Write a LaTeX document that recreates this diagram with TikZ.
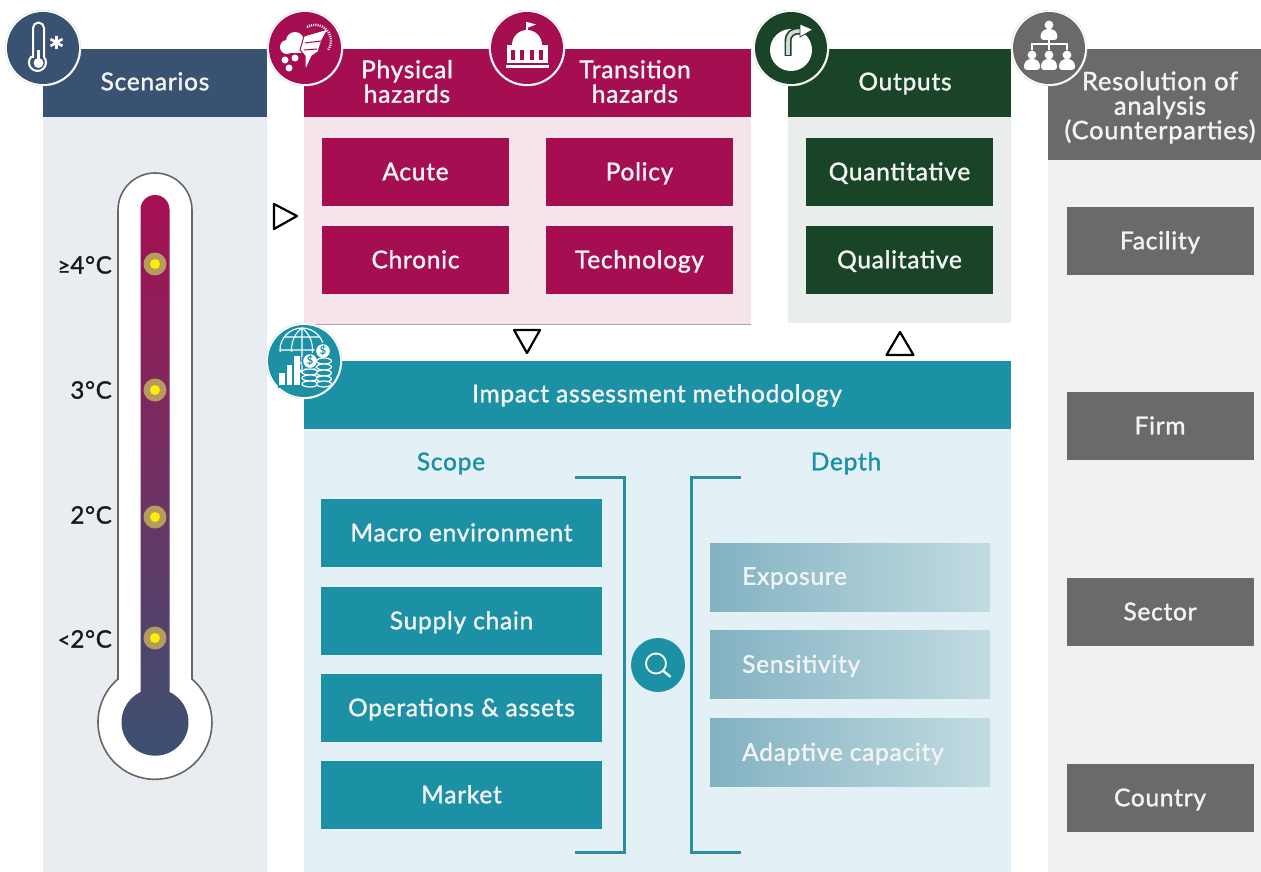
\documentclass[tikz,border=0pt]{standalone}
\usepackage{fontspec}
\setmainfont{Lato}
\newfontfamily\labelfont[LetterSpace=3,FakeBold=1.4]{Lato}
\definecolor{navy}{HTML}{3A5272}
\definecolor{wine}{HTML}{A50F52}
\definecolor{forest}{HTML}{1A4428}
\definecolor{slategrey}{HTML}{6A6A6A}
\definecolor{teal}{HTML}{1C90A5}
\definecolor{pnavy}{HTML}{E9ECF0}
\definecolor{pwine}{HTML}{F6E4EC}
\definecolor{pforest}{HTML}{E9EDEB}
\definecolor{pgrey}{HTML}{F0F1F1}
\definecolor{pteal}{HTML}{E3F1F6}
\definecolor{softwhite}{HTML}{F2F4F3}
\definecolor{depleft}{HTML}{82B2C2}
\definecolor{depright}{HTML}{C2DBE1}
\definecolor{halo}{HTML}{B39C5E}
\definecolor{brack}{HTML}{2A8DA2}
\tikzset{
  x=1pt,y=1pt,
  txt/.style={font=\labelfont\fontsize{#1}{24.5}\selectfont,text=softwhite,inner sep=0pt,align=center},
  txt/.default=24.5,
  cardtext/.style={txt,text height=22pt,text depth=5.5pt},
  card/.style={minimum width=187pt,minimum height=68pt,inner sep=0pt,outer sep=0pt,cardtext,fill=#1},
  dep/.style={minimum width=280pt,minimum height=68pt,inner sep=0pt,left color=depleft,right color=depright},
  triangle/.style={draw=black,fill=white,line width=2.2pt,line join=round},
  bracket/.style={draw=brack,line width=3pt},
  temp/.style={font=\labelfont\fontsize{24}{24}\selectfont,text=black!90,inner sep=0pt,anchor=east},
  heat/.style={circle,fill=halo,minimum size=23pt,inner sep=0pt},
  ring/.style={circle,fill=white,draw=black!12,line width=.5pt,minimum size=76pt,inner sep=0pt},
  disc/.style={circle,fill=#1,minimum size=72pt,inner sep=0pt},
}
\begin{document}
\begin{tikzpicture}
\useasboundingbox (0,-872) rectangle (1261,0);
% panels
\fill[pnavy] (43,-117) rectangle (267,-872);
\fill[navy] (43,-49) rectangle (267,-117);
\fill[pwine] (304,-117) rectangle (751,-324);
\fill[wine] (304,-49) rectangle (751,-117);
\draw[black!35,line width=0.6pt] (304,-324.5) -- (751,-324.5);
\fill[pforest] (788,-117) rectangle (1011,-323);
\fill[forest] (788,-49) rectangle (1011,-117);
\fill[pgrey] (1048,-160) rectangle (1261,-872);
\fill[slategrey] (1048,-49) rectangle (1261,-160);
\fill[pteal] (304,-429) rectangle (1011,-872);
\fill[teal] (304,-361) rectangle (1011,-429);
% headers
\node[cardtext] (hScen) at (155,-82) {Scenarios};
\node[txt] (hPhys) at (407,-81.5) {Physical\\hazards};
\node[txt] (hTrans) at (635,-81.5) {Transition\\hazards};
\node[cardtext] (hOut) at (905,-82) {Outputs};
\node[txt=25.5] (hRes) at (1160,-107.5) {Resolution of\\analysis\\(Counterparties)};
\node[cardtext] (hImp) at (657,-394) {Impact assessment methodology};
\node[cardtext,text=teal] (hScope) at (451,-462) {Scope};
\node[cardtext,text=teal] (hDepth) at (846,-462) {Depth};
% cards
\node[card=wine] (acute) at (415.5,-172) {Acute};
\node[card=wine] (policy) at (639.5,-172) {Policy};
\node[card=wine] (chronic) at (415.5,-260) {Chronic};
\node[card=wine] (tech) at (639.5,-260) {Technology};
\node[card=forest] (quant) at (899.5,-172) {Quantitative};
\node[card=forest] (qual) at (899.5,-260) {Qualitative};
\node[card=slategrey] (facility) at (1160,-241) {Facility};
\node[card=slategrey] (firm) at (1160,-426) {Firm};
\node[card=slategrey] (sector) at (1160,-612) {Sector};
\node[card=slategrey] (country) at (1160,-798) {Country};
\node[card=teal,minimum width=281pt] (macro) at (461.5,-533) {Macro environment};
\node[card=teal,minimum width=281pt] (supply) at (461.5,-621) {Supply chain};
\node[card=teal,minimum width=281pt] (ops) at (461.5,-708) {Operations \& assets};
\node[card=teal,minimum width=281pt] (market) at (461.5,-795) {Market};
\node[dep] (expo) at (850,-577) {};
\node[dep] (sens) at (850,-664) {};
\node[dep] (adap) at (850,-752) {};
\node[cardtext,anchor=west] (texpo) at (742,-576.5) {Exposure};
\node[cardtext,anchor=west] (tsens) at (742,-664.5) {Sensitivity};
\node[cardtext,anchor=west] (tadap) at (742,-752.5) {Adaptive capacity};
% brackets
\draw[bracket] (575,-477) -- (624,-477) -- (624,-852) -- (575,-852);
\draw[bracket] (741,-477) -- (691,-477) -- (691,-852) -- (741,-852);
% search
\node[circle,fill=teal,minimum size=54pt,inner sep=0pt] (search) at (658,-665) {};
\draw[white,line width=1.8pt] (656,-663.5) circle[radius=10pt];
\draw[white,line width=2.4pt,line cap=round] (663.5,-671) -- (670,-676.5);
% triangles
\draw[triangle] (274,-204) -- (297,-216) -- (274,-229) -- cycle;
\draw[triangle] (514,-330) -- (540,-330) -- (527,-353) -- cycle;
\draw[triangle] (886.5,-355) -- (913.5,-355) -- (900,-332) -- cycle;
% thermometer
\draw[fill=white,draw=black!60,line width=1.6pt]
  (118,-679) -- (118,-210) arc[start angle=180,end angle=0,radius=37pt]
  -- (192,-679) arc[start angle=49.5,end angle=-229.5,radius=57pt] -- cycle;
\shade[top color=wine,bottom color=navy]
  (140.5,-692) -- (140.5,-209.5) arc[start angle=180,end angle=0,radius=14.5pt]
  -- (169.5,-692) arc[start angle=64.4,end angle=-244.4,radius=33.5pt] -- cycle;
\foreach \n/\yy/\ly/\lab in {a/264/265/{{\fontsize{22}{22}\selectfont≥}4°C},b/390/390/{3°C},c/517/515/{2°C},d/638/639/{{\fontsize{22}{22}\selectfont<}2°C}}{
  \node[heat] (dot\n) at (155,-\yy) {};
  \node[circle,fill=yellow!95!orange,minimum size=10pt,inner sep=0pt] (core\n) at (155,-\yy) {};
  \node[temp] (lab\n) at (112,-\ly) {\lab};
}
% badges
\node[ring] (rScen) at (43,-48) {};
\node[disc=navy] (bScen) at (43,-48) {};
\node[ring] (rPhys) at (305,-48) {};
\node[disc=wine] (bPhys) at (305,-48) {};
\node[ring] (rTrans) at (527,-48) {};
\node[disc=wine] (bTrans) at (527,-48) {};
\node[ring] (rOut) at (791,-48) {};
\node[disc=forest] (bOut) at (791,-48) {};
\node[ring] (rRes) at (1049,-48) {};
\node[disc=slategrey] (bRes) at (1049,-48) {};
\node[ring] (rImp) at (304,-361) {};
\node[disc=teal] (bImp) at (304,-361) {};
% thermometer icon
\draw[white,line width=2pt,fill=navy] (33,-57) -- (33,-28) arc[start angle=180,end angle=0,radius=5.5pt] -- (44,-57)
  arc[start angle=40,end angle=-220,radius=8.5pt] -- cycle;
\fill[white] (38.5,-63) circle[radius=5pt];
\fill[white] (37,-63) rectangle (40,-50);
\draw[white,line width=2.6pt] (56.5,-36) -- (56.5,-49) (50.5,-39) -- (62.5,-46) (50.5,-46) -- (62.5,-39);
% storm icon
\fill[white] (287,-47) circle[radius=7pt] (295,-41) circle[radius=9pt] (303,-47) circle[radius=6pt] (285,-47) rectangle (305,-53);
\fill[white] (285,-60) circle[radius=3.5pt] (295,-58) circle[radius=3.5pt] (289,-68) circle[radius=3.5pt];
\draw[wine,line width=1pt,fill=white] (304,-36) -- (328,-29) -- (322,-40) -- (318,-52) -- (312,-56) -- (305,-71) -- (305,-56) -- (300,-50) -- cycle;
\draw[wine,line width=1pt] (305,-43) -- (321,-41) (304,-50) -- (317,-49);
\draw[white,line width=2.4pt,dash pattern=on 1pt off 1.2pt] (307,-27) arc[start angle=120,end angle=-35,radius=16pt];
% capitol icon
\draw[white,line width=1.2pt] (527,-31) -- (527,-22);
\fill[white] (527,-22) -- (536,-24.5) -- (527,-28) -- cycle;
\fill[white] (512,-45) arc[start angle=180,end angle=0,radius=15pt] -- cycle;
\fill[white] (507,-45) rectangle (548,-63);
\foreach \cx in {513,522,532,541}{\fill[wine] (\cx-1.7,-50) rectangle (\cx+1.7,-60);}
\fill[white] (506,-65.5) rectangle (549,-68);
% output icon
\fill[white] (791,-50) circle[radius=21pt];
\draw[forest,line width=7pt] (788,-56) -- (788,-42) .. controls (788,-34) and (792,-31) .. (800,-31);
\draw[white!85!black,line width=3.6pt] (788,-55) -- (788,-42) .. controls (788,-34) and (792,-31) .. (800,-31);
\fill[white,draw=forest,line width=.8pt] (800,-24) -- (813,-29.5) -- (800,-37) -- cycle;
% org chart icon
\foreach \cx/\cy/\s in {1049/-25/1.05,1032/-55/1,1049/-55/1,1067/-55/1}{
  \fill[white] (\cx,\cy) circle[radius=4.4pt];
  \fill[white,rounded corners=3pt] (\cx-8*\s,\cy-15) -- (\cx-8*\s,\cy-8) -- (\cx-4,\cy-4) -- (\cx+4,\cy-4) -- (\cx+8*\s,\cy-8) -- (\cx+8*\s,\cy-15) -- cycle;
}
\draw[white,line width=1.3pt] (1049,-40) -- (1049,-50) (1032,-50) -- (1032,-44) -- (1067,-44) -- (1067,-50);
% impact icon
\draw[white,line width=1.2pt] (302,-350) circle[radius=22pt];
\draw[white,line width=1.1pt] (302,-328) -- (302,-372) (280,-350) -- (324,-350)
  (302,-328) .. controls (288,-338) and (288,-362) .. (302,-372)
  (302,-328) .. controls (316,-338) and (316,-362) .. (302,-372)
  (285,-337) -- (319,-337) (285,-363) -- (319,-363);
\fill[teal] (278,-352) rectangle (300,-388);
\fill[white] (279,-373) rectangle (284.5,-385);
\fill[white] (286.5,-365) rectangle (292,-385);
\fill[white] (294,-356) rectangle (299.5,-385);
\foreach \cx/\cy in {310/-361,323/-351}{
  \fill[teal] (\cx,\cy) circle[radius=8.5pt];
  \fill[white] (\cx,\cy) circle[radius=6.8pt];
  \node[text=teal,inner sep=0pt,font=\fontsize{11}{11}\selectfont\bfseries] at (\cx,\cy) {\$};
}
\foreach \cy in {-372,-378,-384}{\draw[white,line width=1.2pt,fill=teal] (310,\cy) ellipse[x radius=8pt,y radius=3pt];}
\foreach \cy in {-361,-367,-373,-379,-384}{\draw[white,line width=1.2pt,fill=teal] (324,\cy) ellipse[x radius=7.5pt,y radius=3pt];}
\end{tikzpicture}
\end{document}
